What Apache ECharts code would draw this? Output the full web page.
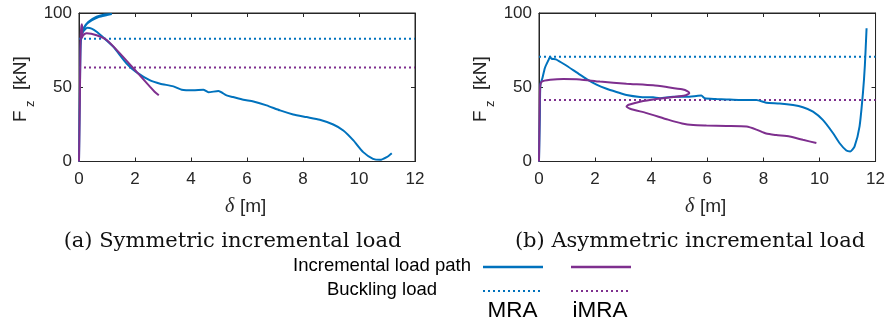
<!DOCTYPE html>
<html>
<head>
<meta charset="utf-8">
<script src="https://cdn.jsdelivr.net/npm/echarts@6/dist/echarts.min.js"></script>
<style>
html,body{margin:0;padding:0;background:#fff;}
#chart{width:888px;height:324px;}
</style>
</head>
<body>
<div id="chart"></div>
<script>
// ---- data ----
const xRange = [0, 12];
const yRange = [0, 100];
const xTickStep = 2;
const yTickStep = 50;

// (a) Symmetric incremental load
const symMRA = [[0,0],[0.02,30],[0.04,60],[0.06,78],[0.09,85],[0.15,89.5],[0.33,94],[0.63,97.5],[0.87,98.9],[1.17,99.3],[1.0,98.6],[0.7,97.3],[0.45,95],[0.25,92],[0.12,87],[0.08,83],[0.15,87.5],[0.3,90],[0.45,89.5],[0.63,87.4],[0.9,83],[1.23,77.2],[1.7,66],[2.06,60],[2.54,54.6],[2.9,52.4],[3.37,50.6],[3.67,48.3],[4.08,47.9],[4.44,48.3],[4.62,46.7],[4.98,47.4],[5.27,44.5],[5.5,43.4],[5.87,41.6],[6.23,40.4],[6.7,37.8],[7.18,34.4],[7.65,31.7],[8.13,29.9],[8.6,28.1],[9.08,24.9],[9.44,20.9],[9.8,14.2],[10.15,6.3],[10.5,1.8],[10.75,1.1],[10.99,2.9],[11.17,5.6]];
const symIMRA = [[0,0],[0.03,40],[0.05,75],[0.07,88],[0.1,92.4],[0.12,88],[0.1,83],[0.15,85],[0.27,86.3],[0.63,85],[0.99,81.8],[1.46,72.8],[2.06,60.3],[2.54,50.2],[2.7,47],[2.85,44.6]];
const symBuckling = [82.6, 63.3];   // [MRA, iMRA]

// (b) Asymmetric incremental load
const asymMRA = [[0,0],[0.03,30],[0.05,52],[0.12,56],[0.21,63],[0.33,68],[0.4,70.5],[0.45,69.2],[0.6,68.8],[0.9,65.5],[1.34,60],[1.7,55.5],[2.05,51.8],[2.41,49],[2.77,46.8],[3.12,44.8],[3.6,43.5],[4.07,43.2],[4.31,42.6],[4.78,43.6],[5.26,43.6],[5.61,44.1],[5.79,44.4],[5.91,42.6],[6.33,42.1],[6.68,41.8],[7.16,41.4],[7.75,41.4],[8.1,39.6],[8.58,39.1],[9.06,38],[9.41,36.5],[9.77,33.6],[10.12,28],[10.48,19.2],[10.72,12.3],[10.96,7.4],[11.1,6.8],[11.25,10],[11.43,23.7],[11.55,46],[11.62,65],[11.68,89.7]];
const asymIMRA = [[0,0],[0.02,30],[0.04,50],[0.1,53.8],[0.4,55],[0.87,55.6],[1.46,55.3],[2.17,53.8],[3.12,52.4],[4.07,51.3],[4.6,50],[5.1,48.6],[5.3,47.3],[5.36,46],[5.2,44.4],[4.8,43.4],[4.19,42.1],[3.6,40.3],[3.2,38.2],[3.12,37],[3.25,35.5],[3.84,32.6],[4.6,28.2],[5.1,25.6],[5.5,24.5],[5.97,24.2],[6.68,23.9],[7.4,23.5],[7.75,21.5],[8.1,18.8],[8.46,17.8],[8.94,16.8],[9.41,14.6],[9.89,12.4]];
const asymBuckling = [70.5, 41.4];  // [MRA, iMRA]

const panelTitles = ['(a) Symmetric incremental load', '(b) Asymmetric incremental load'];
const legendRows = ['Incremental load path', 'Buckling load'];
const methodNames = ['MRA', 'iMRA'];

// ---- styling ----
const BLUE = '#0072BD', PURPLE = '#7E2F8E', AX = '#262626';
const SANS = '"Liberation Sans", Arial, sans-serif';
const grids = [
  {left: 79, top: 13, width: 336, height: 148.5},
  {left: 539, top: 13, width: 337, height: 148.5}
];

const chart = echarts.init(document.getElementById('chart'), null, {renderer: 'canvas'});

function xAx(gi, pos) {
  const main = pos === 'bottom';
  return {
    type: 'value', gridIndex: gi, position: pos, min: xRange[0], max: xRange[1], interval: xTickStep,
    axisLine: {show: true, onZero: false, lineStyle: {color: AX, width: 1}},
    axisTick: {show: true, inside: true, length: 4, lineStyle: {color: AX}},
    axisLabel: {show: main, color: AX, fontSize: 17, fontFamily: SANS, margin: 9},
    splitLine: {show: false}
  };
}
function yAx(gi, pos) {
  const main = pos === 'left';
  return {
    type: 'value', gridIndex: gi, position: pos, min: yRange[0], max: yRange[1], interval: yTickStep,
    axisLine: {show: true, onZero: false, lineStyle: {color: AX, width: 1}},
    axisTick: {show: true, inside: true, length: 4, lineStyle: {color: AX}},
    axisLabel: {show: main, color: AX, fontSize: 17, fontFamily: SANS, margin: 7},
    splitLine: {show: false}
  };
}

function pathSeries(data, color, gi) {
  return {
    type: 'line', xAxisIndex: gi * 2, yAxisIndex: gi * 2, data: data,
    showSymbol: false, symbol: 'none', smooth: 0.2, clip: true, animation: false,
    lineStyle: {color: color, width: 2}
  };
}
function bucklingSeries(v, color, gi) {
  return {
    type: 'line', xAxisIndex: gi * 2, yAxisIndex: gi * 2,
    data: [[xRange[0], v], [xRange[1], v]],
    showSymbol: false, symbol: 'none', animation: false, z: 1,
    lineStyle: {color: color, width: 2, type: [2, 3]}
  };
}

// axis-name graphics (F_z [kN] rotated, δ [m])
function yName(x0) {
  return {
    type: 'group', x: x0, y: 122, rotation: Math.PI / 2,
    children: [
      {type: 'text', style: {text: 'F', x: 0, y: -6.6, font: '19px ' + SANS, fill: AX, align: 'left', verticalAlign: 'middle'}},
      {type: 'text', style: {text: 'z', x: 15, y: 3.5, font: '13px ' + SANS, fill: AX, align: 'left', verticalAlign: 'middle'}},
      {type: 'text', style: {text: '[kN]', x: 32, y: -6.6, font: '19px ' + SANS, fill: AX, align: 'left', verticalAlign: 'middle'}}
    ]
  };
}
function xName(x0) {
  return {
    type: 'group', x: x0, y: 207,
    children: [
      {type: 'text', style: {text: 'δ', x: 0, y: 0, font: 'italic 20px "Liberation Serif", serif', fill: AX, align: 'left', verticalAlign: 'middle'}},
      {type: 'text', style: {text: '[m]', x: 15, y: 0, font: '19px ' + SANS, fill: AX, align: 'left', verticalAlign: 'middle'}}
    ]
  };
}

const TITLE_FONT = '21px "DejaVu Serif", serif';
const graphics = [
  yName(27), yName(487),
  xName(225), xName(685),
  {type: 'text', style: {text: panelTitles[0], x: 232.5, y: 242, font: TITLE_FONT, fill: '#111', align: 'center', verticalAlign: 'middle'}},
  {type: 'text', style: {text: panelTitles[1], x: 690, y: 242, font: TITLE_FONT, fill: '#111', align: 'center', verticalAlign: 'middle'}},
  {type: 'text', style: {text: legendRows[0], x: 382, y: 266, font: '18.5px ' + SANS, fill: '#000', align: 'center', verticalAlign: 'middle'}},
  {type: 'text', style: {text: legendRows[1], x: 382, y: 290, font: '18.5px ' + SANS, fill: '#000', align: 'center', verticalAlign: 'middle'}},
  {type: 'line', shape: {x1: 483, y1: 267, x2: 543, y2: 267}, style: {stroke: BLUE, lineWidth: 2.5}},
  {type: 'line', shape: {x1: 571, y1: 267, x2: 631, y2: 267}, style: {stroke: PURPLE, lineWidth: 2.5}},
  {type: 'line', shape: {x1: 483, y1: 291, x2: 543, y2: 291}, style: {stroke: BLUE, lineWidth: 2, lineDash: [2, 3]}},
  {type: 'line', shape: {x1: 571, y1: 291, x2: 631, y2: 291}, style: {stroke: PURPLE, lineWidth: 2, lineDash: [2, 3]}},
  {type: 'text', style: {text: methodNames[0], x: 512.5, y: 311, font: '22.5px ' + SANS, fill: '#000', align: 'center', verticalAlign: 'middle'}},
  {type: 'text', style: {text: methodNames[1], x: 600, y: 311, font: '22.5px ' + SANS, fill: '#000', align: 'center', verticalAlign: 'middle'}}
];

chart.setOption({
  animation: false,
  backgroundColor: '#fff',
  grid: grids.map(g => Object.assign({show: true, borderColor: AX, borderWidth: 1, backgroundColor: '#fff'}, g)),
  xAxis: [xAx(0, 'bottom'), xAx(0, 'top'), xAx(1, 'bottom'), xAx(1, 'top')],
  yAxis: [yAx(0, 'left'), yAx(0, 'right'), yAx(1, 'left'), yAx(1, 'right')].map((a, i) => a),
  series: [
    bucklingSeries(symBuckling[0], BLUE, 0),
    bucklingSeries(symBuckling[1], PURPLE, 0),
    pathSeries(symMRA, BLUE, 0),
    pathSeries(symIMRA, PURPLE, 0),
    bucklingSeries(asymBuckling[0], BLUE, 1),
    bucklingSeries(asymBuckling[1], PURPLE, 1),
    pathSeries(asymMRA, BLUE, 1),
    pathSeries(asymIMRA, PURPLE, 1)
  ],
  graphic: graphics
});
</script>
</body>
</html>
